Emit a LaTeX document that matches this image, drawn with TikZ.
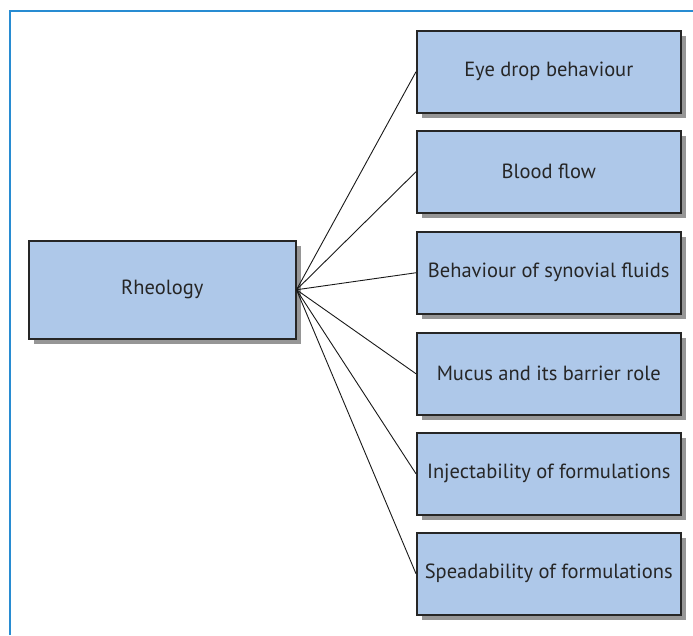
\documentclass[tikz,border=0pt]{standalone}
\usepackage{fontspec}
\setmainfont{PT Sans}
\definecolor{boxfill}{RGB}{174,200,233}
\definecolor{shadowgray}{RGB}{150,150,150}
\definecolor{frameblue}{RGB}{40,140,210}
\begin{document}
\begin{tikzpicture}[x=1pt,y=-1pt,
  topic/.style={draw=black!85, line width=1.5pt, fill=boxfill, minimum width=264pt,
    minimum height=82pt, inner sep=0pt, font=\fontsize{20.5}{24}\selectfont, text=black!85},
  shade/.style={fill=shadowgray},
  link/.style={draw=black!90, line width=0.9pt}]
\useasboundingbox (0,0) rectangle (693,635);
% outer frame (left and top edges)
\draw[frameblue, line width=2pt] (10,635) -- (10,11) -- (693,11);
% drop shadows
\fill[shade] (34,246) rectangle (301,344);
\foreach \y in {30,130,231,332,432,532}
  \fill[shade] (422,\y+6) rectangle (686,\y+88);
% central box
\node[topic, minimum width=267pt, minimum height=98pt, anchor=north west] (rheo) at (28,240) {Rheology};
% topic boxes
\node[topic, anchor=north west] (t1) at (416,30) {Eye drop behaviour};
\node[topic, anchor=north west] (t2) at (416,130) {Blood flow};
\node[topic, anchor=north west] (t3) at (416,231) {Behaviour of synovial fluids};
\node[topic, anchor=north west] (t4) at (416,332) {Mucus and its barrier role};
\node[topic, anchor=north west] (t5) at (416,432) {Injectability of formulations};
\node[topic, anchor=north west] (t6) at (416,532) {Speadability of formulations};
% connectors
\foreach \t in {t1,t2,t3,t4,t5,t6}
  \draw[link] (rheo.east) -- (\t.west);
\end{tikzpicture}
\end{document}
